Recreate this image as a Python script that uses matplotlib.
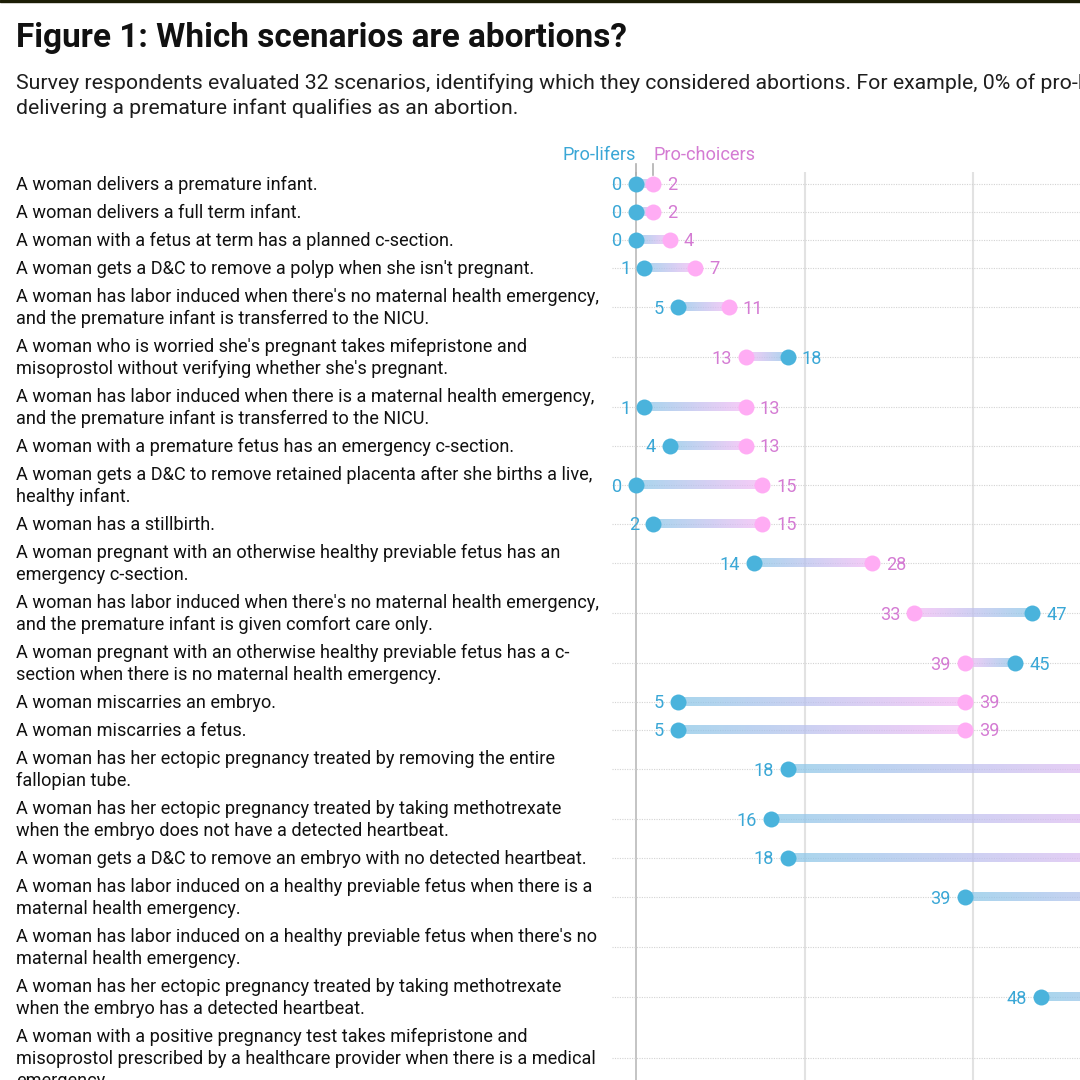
import numpy as np
import matplotlib
matplotlib.use("Agg")
import matplotlib.pyplot as plt
from matplotlib.patches import Rectangle
from matplotlib.colors import to_rgb

# ---------------- data ----------------
title = "Figure 1: Which scenarios are abortions?"
subtitle = [
    "Survey respondents evaluated 32 scenarios, identifying which they considered abortions. For example, 0% of pro-lifers and 2% of pro-choicers say",
    "delivering a premature infant qualifies as an abortion.",
]
scenarios = [
    "A woman delivers a premature infant.",
    "A woman delivers a full term infant.",
    "A woman with a fetus at term has a planned c-section.",
    "A woman gets a D&C to remove a polyp when she isn't pregnant.",
    "A woman has labor induced when there's no maternal health emergency,\nand the premature infant is transferred to the NICU.",
    "A woman who is worried she's pregnant takes mifepristone and\nmisoprostol without verifying whether she's pregnant.",
    "A woman has labor induced when there is a maternal health emergency,\nand the premature infant is transferred to the NICU.",
    "A woman with a premature fetus has an emergency c-section.",
    "A woman gets a D&C to remove retained placenta after she births a live,\nhealthy infant.",
    "A woman has a stillbirth.",
    "A woman pregnant with an otherwise healthy previable fetus has an\nemergency c-section.",
    "A woman has labor induced when there's no maternal health emergency,\nand the premature infant is given comfort care only.",
    "A woman pregnant with an otherwise healthy previable fetus has a c-\nsection when there is no maternal health emergency.",
    "A woman miscarries an embryo.",
    "A woman miscarries a fetus.",
    "A woman has her ectopic pregnancy treated by removing the entire\nfallopian tube.",
    "A woman has her ectopic pregnancy treated by taking methotrexate\nwhen the embryo does not have a detected heartbeat.",
    "A woman gets a D&C to remove an embryo with no detected heartbeat.",
    "A woman has labor induced on a healthy previable fetus when there is a\nmaternal health emergency.",
    "A woman has labor induced on a healthy previable fetus when there's no\nmaternal health emergency.",
    "A woman has her ectopic pregnancy treated by taking methotrexate\nwhen the embryo has a detected heartbeat.",
    "A woman with a positive pregnancy test takes mifepristone and\nmisoprostol prescribed by a healthcare provider when there is a medical\nemergency.",
]
pro_lifers = [0, 0, 0, 1, 5, 18, 1, 4, 0, 2, 14, 47, 45, 5, 5, 18, 16, 18, 39, 60, 48, 65]
pro_choicers = [2, 2, 4, 7, 11, 13, 13, 13, 15, 15, 28, 33, 39, 39, 39, 62, 63, 64, 75, 78, 82, 86]
grid_values = [0, 20, 40, 60, 80, 100]
legend_labels = ["Pro-lifers", "Pro-choicers"]

# ---------------- style ----------------
W = H = 1080
DPI = 100
PX_PER_UNIT = 8.43
X0_PX = 636
BLUE = "#4ab3dc"
PINK = "#ffacf4"
BLUE_TXT = "#3aa7d6"
PINK_TXT = "#d47bd3"
BAR_BLUE = np.array(to_rgb("#8cc8e8"))
BAR_PINK = np.array(to_rgb("#f5bbf5"))
FONT = "Roboto"
FS = 13.1
LINE_H = 22

fig = plt.figure(figsize=(W / DPI, H / DPI), dpi=DPI)
fig.patch.set_facecolor("white")
ax = fig.add_axes([0, 0, 1, 1])
ax.set_xlim(-X0_PX / PX_PER_UNIT, (W - X0_PX) / PX_PER_UNIT)
ax.set_ylim(H, 0)
ax.axis("off")

def px_to_x(px):
    return (px - X0_PX) / PX_PER_UNIT

# row layout (pixel centres) from number of text lines
nlines = [s.count("\n") + 1 for s in scenarios]
heights = [22 * n + 6 for n in nlines]
centres = []
y = 184 - heights[0] / 2
for h in heights:
    centres.append(y + h / 2)
    y += h

# top dark strip
fig.patches.append(Rectangle((0, 1 - 2 / H), 1, 2 / H, transform=fig.transFigure,
                             color="#1c1e06", zorder=10))

# title / subtitle
fig.text(16 / W, 1 - 47 / H, title, fontsize=24, fontweight="bold", family=FONT,
         color="#111111", va="baseline", ha="left")
for i, line in enumerate(subtitle):
    fig.text(16 / W, 1 - (89 + 25 * i) / H, line, fontsize=15.3, family=FONT,
             color="#1e1e1e", va="baseline", ha="left")

# vertical grid lines
for g in grid_values:
    if g == 0:
        ax.plot([g, g], [172, H + 10], color="#c4c4c4", lw=1.4, zorder=1, solid_capstyle="butt")
    else:
        ax.plot([g, g], [172, H + 10], color="#e2e2e2", lw=1.5, zorder=1, solid_capstyle="butt")

# legend
ax.text(0, 160, legend_labels[0], ha="right", va="baseline", fontsize=FS, family=FONT, color=BLUE_TXT)
ax.text(px_to_x(X0_PX + 18), 160, legend_labels[1], ha="left", va="baseline", fontsize=FS,
        family=FONT, color=PINK_TXT)
for v in (pro_lifers[0], pro_choicers[0]):
    ax.plot([v, v], [164, 175], color="#b0b0b0", lw=1.2, zorder=3)

grad = np.linspace(0, 1, 256)
for i, (lbl, yc, b, p) in enumerate(zip(scenarios, centres, pro_lifers, pro_choicers)):
    # label lines
    lines = lbl.split("\n")
    n = len(lines)
    for k, ln in enumerate(lines):
        yb = yc - (n - 1) * LINE_H / 2 + k * LINE_H + 6.5
        ax.text(px_to_x(16), yb, ln, ha="left", va="baseline", fontsize=FS, family=FONT, color="#111111")
    # dotted row line
    ax.plot([px_to_x(612), px_to_x(W + 20)], [yc, yc], color="#d3d3d3", lw=0.8,
            linestyle=(0, (1, 1.2)), zorder=2)
    # gradient bar from blue end to pink end
    lo, hi = min(b, p), max(b, p)
    t = grad if b <= p else grad[::-1]
    cols = BAR_BLUE[None, :] * (1 - t[:, None]) + BAR_PINK[None, :] * t[:, None]
    img = np.concatenate([cols, np.full((256, 1), 0.75)], axis=1)[None, :, :]
    ax.imshow(img, extent=[lo, hi, yc + 4.5, yc - 4.5], aspect="auto", interpolation="bilinear",
              zorder=4)
    # dots
    ax.plot([b], [yc], "o", color=BLUE, ms=11.5, mec="none", zorder=6)
    ax.plot([p], [yc], "o", color=PINK, ms=11.5, mec="none", zorder=5)
    # value labels
    off = 14 / PX_PER_UNIT
    if b <= p:
        ax.text(b - off, yc + 6.5, f"{b}", ha="right", va="baseline", fontsize=FS, family=FONT, color=BLUE_TXT, zorder=7)
        ax.text(p + off, yc + 6.5, f"{p}", ha="left", va="baseline", fontsize=FS, family=FONT, color=PINK_TXT, zorder=7)
    else:
        ax.text(b + off, yc + 6.5, f"{b}", ha="left", va="baseline", fontsize=FS, family=FONT, color=BLUE_TXT, zorder=7)
        ax.text(p - off, yc + 6.5, f"{p}", ha="right", va="baseline", fontsize=FS, family=FONT, color=PINK_TXT, zorder=7)

ax.set_xlim(-X0_PX / PX_PER_UNIT, (W - X0_PX) / PX_PER_UNIT)
ax.set_ylim(H, 0)

fig.savefig("out.png", dpi=DPI)
